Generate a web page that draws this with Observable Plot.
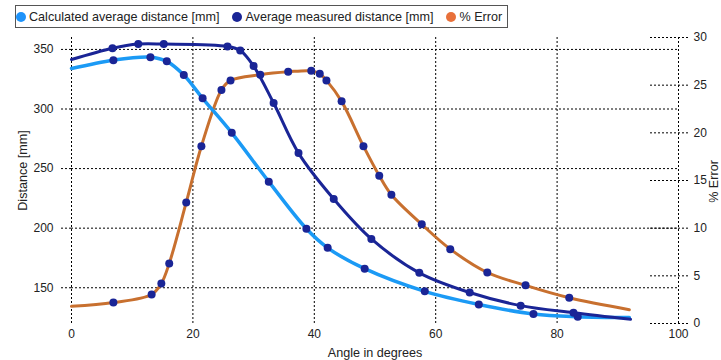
<!DOCTYPE html>
<html>
<head>
<meta charset="utf-8">
<script src="https://cdn.jsdelivr.net/npm/d3@7"></script>
<script src="https://cdn.jsdelivr.net/npm/@observablehq/plot@0.6"></script>
<style>
  body { margin: 0; background: #fff; font-family: "Liberation Sans", Arial, sans-serif; }
  #legend { position: relative; height: 30px; width: 721px; }
  #legend .box { position: absolute; left: 15px; top: 5px; height: 23px; box-sizing: border-box;
    border: 1px solid #555; display: flex; align-items: center; padding: 0 5px 0 0; font-size: 12.6px; color: #222; white-space: nowrap; }
  #legend .item { display: flex; align-items: center; margin-left: 13px; }
  #legend .item:first-child { margin-left: 0; }
  #legend .sw { width: 10px; height: 10px; border-radius: 50%; margin-right: 3px; }
</style>
</head>
<body>
<div id="legend"></div>
<div id="chart"></div>
<script>
// ---- data ----
const calcAngle = [0, 6.9, 13.0, 15.7, 18.5, 21.6, 26.4, 32.5, 38.7, 42.2, 48.3, 58.2, 67.1, 76.1, 83.4, 91.9];
const calcDist  = [334, 341, 343.5, 340, 328.5, 309, 280, 239, 199.5, 183.5, 166, 147, 136, 128, 125.7, 125];

const measAngle = [0, 6.75, 11.0, 15.2, 25.7, 27.8, 30.0, 33.3, 37.4, 43.2, 49.4, 57.3, 65.6, 74.0, 82.7, 92.1];
const measDist  = [341.5, 351, 354.5, 354.5, 352.5, 349, 336, 305, 263, 224.5, 191, 162.5, 146, 135, 129, 123.5];

const errAngle = [0, 6.9, 13.2, 14.8, 16.1, 18.9, 21.4, 24.7, 26.2, 31.1, 35.7, 39.5, 40.9, 42.0, 44.5, 48.1, 50.7, 52.7, 57.7, 62.4, 68.5, 74.8, 82.0, 91.9];
const errPct   = [1.8, 2.2, 3.05, 4.2, 6.3, 12.7, 18.6, 24.5, 25.5, 26.1, 26.4, 26.5, 26.2, 25.5, 23.3, 18.6, 15.5, 13.5, 10.4, 7.8, 5.35, 4.0, 2.7, 1.45];

const xTicks = [0, 20, 40, 60, 80, 100];
const distTicks = [150, 200, 250, 300, 350];
const errTicks = [0, 5, 10, 15, 20, 25, 30];

const seriesNames = ["Calculated average distance [mm]", "Average measured distance [mm]", "% Error"];
const legendColors = ["#1e93fa", "#1a2596", "#e8703a"];

// ---- build tables ----
const calc = calcAngle.map((a, i) => ({a, v: calcDist[i]}));
const meas = measAngle.map((a, i) => ({a, v: measDist[i]}));
const err  = errAngle.map((a, i) => ({a, v: errPct[i]}));

const distDomain = [120, 360];
const errDomain = [0, 30];
const toLeft = v => distDomain[0] + (v - errDomain[0]) * (distDomain[1] - distDomain[0]) / (errDomain[1] - errDomain[0]);
const fromLeft = d => Math.round((d - distDomain[0]) * (errDomain[1] - errDomain[0]) / (distDomain[1] - distDomain[0]));

const cLight = "#1b9af5", cDark = "#1a2596", cOrange = "#c8702f";
const dotted = {stroke: "#000", strokeOpacity: 1, strokeDasharray: "2,2", strokeWidth: 1};

// legend
const box = document.createElement("div");
box.className = "box";
seriesNames.forEach((n, i) => {
  const it = document.createElement("div");
  it.className = "item";
  it.innerHTML = `<span class="sw" style="background:${legendColors[i]}"></span><span>${n}</span>`;
  box.appendChild(it);
});
document.getElementById("legend").appendChild(box);

const chart = Plot.plot({
  width: 721,
  height: 330,
  marginLeft: 71,
  marginRight: 43,
  marginTop: 7,
  marginBottom: 37,
  style: {fontFamily: "'Liberation Sans', Arial, sans-serif", fontSize: "12px", color: "#222", overflow: "visible"},
  x: {domain: [0, 100]},
  y: {domain: distDomain},
  marks: [
    Plot.gridX(xTicks, dotted),
    Plot.gridY(distTicks, dotted),
    Plot.axisX(xTicks, {anchor: "bottom", tickSize: 0, tickPadding: 6, label: null, fontSize: 12}),
    Plot.axisY(distTicks, {anchor: "left", tickSize: 10, tickPadding: 8, label: null, fontSize: 12, ...dotted}),
    Plot.axisY(errTicks.map(toLeft), {anchor: "right", tickSize: 38, dx: -29, tickPadding: 6, label: null, fontSize: 12,
      tickFormat: d => fromLeft(d), ...dotted}),
    Plot.text(["Angle in degrees"], {frameAnchor: "bottom", dy: 29, textAnchor: "middle", lineAnchor: "middle", fontSize: 12.6, fill: "#222"}),
    Plot.text(["Distance [mm]"], {frameAnchor: "left", rotate: -90, dx: -49, dy: -10, textAnchor: "middle", lineAnchor: "middle", fontSize: 12.6, fill: "#222"}),
    Plot.text(["% Error"], {frameAnchor: "right", rotate: -90, dx: 35, dy: 1, textAnchor: "middle", lineAnchor: "middle", fontSize: 12.6, fill: "#222"}),
    Plot.line(err, {x: "a", y: d => toLeft(d.v), stroke: cOrange, strokeWidth: 3, curve: "catmull-rom"}),
    Plot.line(calc, {x: "a", y: "v", stroke: cLight, strokeWidth: 3.5, curve: "catmull-rom"}),
    Plot.line(meas, {x: "a", y: "v", stroke: cDark, strokeWidth: 3, curve: "catmull-rom"}),
    Plot.dot(calc.slice(1, -1), {x: "a", y: "v", r: 4, fill: cDark}),
    Plot.dot(meas.slice(1, -1), {x: "a", y: "v", r: 4, fill: cDark}),
    Plot.dot(err.slice(1, -1), {x: "a", y: d => toLeft(d.v), r: 4, fill: cDark})
  ]
});
document.getElementById("chart").appendChild(chart);
</script>
</body>
</html>
